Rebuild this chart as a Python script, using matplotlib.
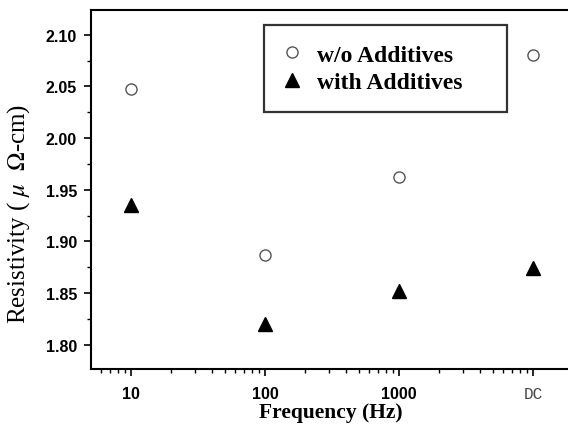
import matplotlib.pyplot as plt
import numpy as np
from matplotlib.ticker import FixedLocator, MultipleLocator, LogLocator, NullFormatter

plt.rcParams['mathtext.fontset'] = 'stix'

# data
freq_labels = ['10', '100', '1000', 'DC']
freq = [10, 100, 1000, 10000]
without_add = [2.047, 1.887, 1.962, 2.080]
with_add = [1.935, 1.820, 1.852, 1.874]

fig = plt.figure(figsize=(5.68, 4.35), dpi=100)
ax = fig.add_axes([0.160, 0.149, 0.84, 0.826])

ax.plot(freq, without_add, linestyle='none', marker='o', markersize=8,
        markerfacecolor='white', markeredgecolor='#555555', markeredgewidth=1.0,
        label='w/o Additives')
ax.plot(freq, with_add, linestyle='none', marker='^', markersize=10,
        color='black', label='with Additives')

ax.set_xscale('log')
ax.set_xlim(5.03, 10 ** 4.261)
ax.set_ylim(1.7765, 2.124)

ax.xaxis.set_major_locator(FixedLocator(freq))
ax.set_xticklabels(freq_labels)
ax.xaxis.set_minor_locator(LogLocator(base=10, subs=np.arange(2, 10)))
ax.xaxis.set_minor_formatter(NullFormatter())
ax.yaxis.set_major_locator(MultipleLocator(0.05))
ax.yaxis.set_minor_locator(MultipleLocator(0.025))
ax.yaxis.set_major_formatter(plt.FuncFormatter(lambda v, p: f'{v:.2f}'))

ax.tick_params(which='major', direction='out', length=5, width=1.2,
               labelsize=11.5)
ax.tick_params(axis='y', which='major', pad=5)
ax.tick_params(axis='x', which='major', pad=7)
ax.tick_params(which='minor', direction='out', length=3, width=1.0)
for lab in ax.get_yticklabels() + ax.get_xticklabels():
    lab.set_family('Liberation Sans')
    lab.set_fontweight('bold')
dc = ax.get_xticklabels()[-1]
dc.set_family('Liberation Mono')
dc.set_fontweight('normal')
dc.set_color('#444444')

for s in ['left', 'bottom', 'top']:
    ax.spines[s].set_linewidth(1.5)
ax.spines['right'].set_visible(False)

ax.set_xlabel('Frequency (Hz)', family='Liberation Serif', fontweight='bold',
              fontsize=15.5)
ax.xaxis.set_label_coords(0.503, -0.092)
ax.set_ylabel('Resistivity ( $\\mu$  $\\Omega$-cm)', family='Liberation Serif',
              fontsize=18)
ax.yaxis.set_label_coords(-0.124, 0.436)

leg = ax.legend(loc='upper left', bbox_to_anchor=(0.3627, 0.5, 0.509, 0.457),
                mode='expand',
                prop={'family': 'Liberation Serif', 'weight': 'bold', 'size': 17},
                frameon=True, fancybox=False, borderpad=0.8, handletextpad=0.67,
                handlelength=0.77, labelspacing=0.25, borderaxespad=0)
leg.get_frame().set_edgecolor('black')
leg.get_frame().set_linewidth(1.6)

fig.savefig('out.png', dpi=100)
